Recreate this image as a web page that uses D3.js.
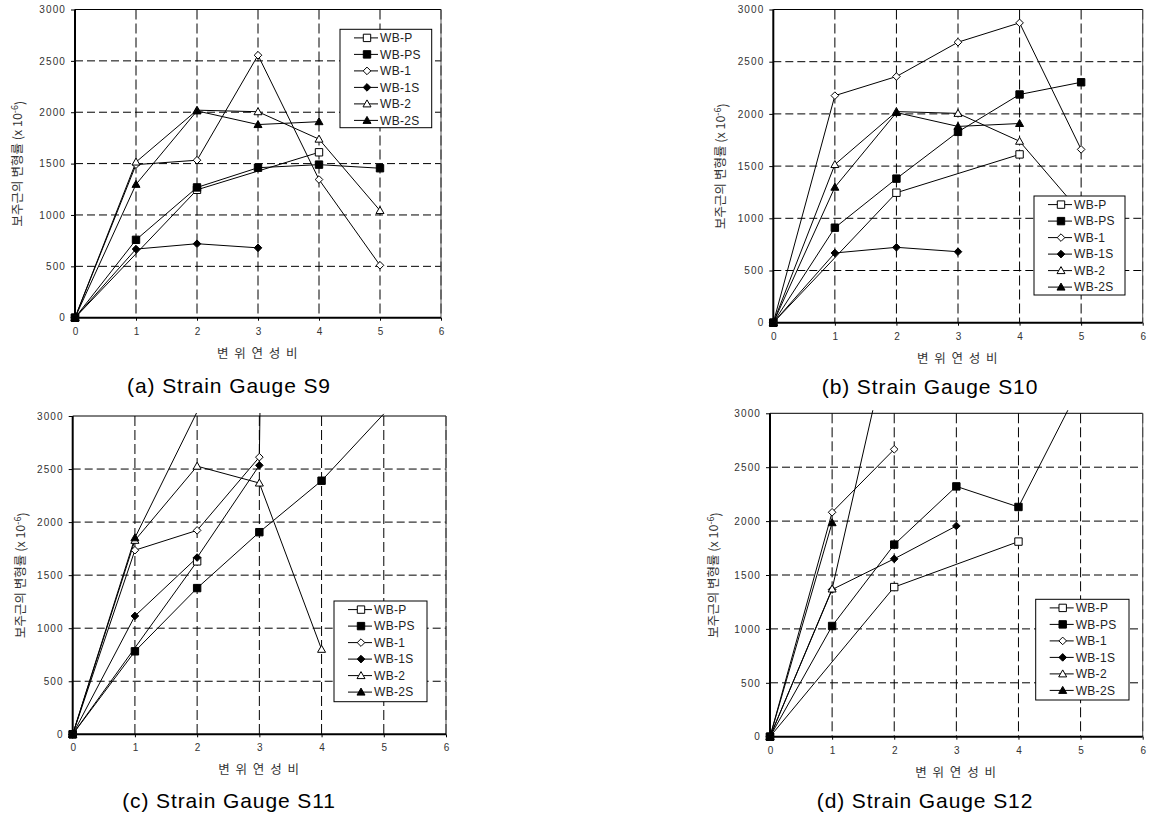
<!DOCTYPE html>
<html>
<head>
<meta charset="utf-8">
<script src="https://cdn.jsdelivr.net/npm/d3@7/dist/d3.min.js"></script>
<style>
  body { margin: 0; background: #fff; }
  svg { display: block; }
  .tick-label { font-family: "Liberation Sans", Arial, sans-serif; font-size: 10px; fill: #333; }
  .axis-title { font-family: "Noto Sans CJK KR", sans-serif; font-size: 12.5px; fill: #333; }
  .legend-text { font-family: "Liberation Sans", Arial, sans-serif; font-size: 12px; fill: #222; letter-spacing: 0.3px; }
  .caption { font-family: "Liberation Sans", Arial, sans-serif; font-size: 21px; fill: #000; letter-spacing: 0.9px; }
</style>
</head>
<body>
<svg id="chart" width="1149" height="819"></svg>
<script>
// axis ticks
var xTicks = [0, 1, 2, 3, 4, 5, 6];
var yTicks = [0, 500, 1000, 1500, 2000, 2500, 3000];
var seriesNames = ["WB-P", "WB-PS", "WB-1", "WB-1S", "WB-2", "WB-2S"];
var markerTypes = ["squareOpen", "squareFilled", "diamondOpen", "diamondFilled", "triangleOpen", "triangleFilled"];
var captions = ["(a) Strain Gauge S9", "(b) Strain Gauge S10", "(c) Strain Gauge S11", "(d) Strain Gauge S12"];
var xTitle = "변 위 연 성 비";

// data : [ductility ratio, strain] per series, order = seriesNames
var s9 = [
  [[0, 0], [2, 1245], [4, 1610]],
  [[0, 0], [1, 758], [2, 1268], [3, 1460], [4, 1490], [5, 1455]],
  [[0, 0], [1, 1490], [2, 1533], [3, 2555], [4, 1345], [5, 510]],
  [[0, 0], [1, 668], [2, 720], [3, 680]],
  [[0, 0], [1, 1515], [2, 2020], [3, 2005], [4, 1738], [5, 1043]],
  [[0, 0], [1, 1298], [2, 2013], [3, 1880], [4, 1908]]
];
var s10 = [
  [[0, 0], [2, 1245], [4, 1612]],
  [[0, 0], [1, 910], [2, 1380], [3, 1828], [4, 2186], [5, 2303]],
  [[0, 0], [1, 2175], [2, 2358], [3, 2687], [4, 2872], [5, 1660]],
  [[0, 0], [1, 668], [2, 722], [3, 680]],
  [[0, 0], [1, 1515], [2, 2022], [3, 2005], [4, 1738], [5, 1050]],
  [[0, 0], [1, 1298], [2, 2013], [3, 1880], [4, 1908]]
];
var s11 = [
  [[0, 0], [2, 1630]],
  [[0, 0], [1, 782], [2, 1378], [3, 1905], [4, 2390], [5, 3020]],
  [[0, 0], [1, 1735], [2, 1922], [3, 2612], [4, 45000]],
  [[0, 0], [1, 1115], [2, 1666], [3, 2535]],
  [[0, 0], [1, 1828], [2, 2527], [3, 2368], [4, 801]],
  [[0, 0], [1, 1852], [2, 3040]]
];
var s12 = [
  [[0, 0], [2, 1388], [4, 1810]],
  [[0, 0], [1, 1027], [2, 1782], [3, 2322], [4, 2131], [5, 3260]],
  [[0, 0], [1, 2082], [2, 2666]],
  [[0, 0], [1, 1365], [2, 1650], [3, 1955]],
  [[0, 0], [1, 1370], [2, 3900]],
  [[0, 0], [1, 1985]]
];

var panels = [
  { data: s9,  caption: captions[0], left: 75,    right: 441,    top: 9.5,   bottom: 317.7, legend: { x: 340,    y: 29.3,  w: 91.7, h: 98.4 },  yTitleX: 18,  capX: 229, capY: 385 },
  { data: s10, caption: captions[1], left: 773.3, right: 1142.7, top: 9.5,   bottom: 322.7, legend: { x: 1034,   y: 196,   w: 91,   h: 99 },    yTitleX: 721, capX: 930, capY: 386 },
  { data: s11, caption: captions[2], left: 72.7,  right: 446,    top: 416,   bottom: 734.3, legend: { x: 334,    y: 601,   w: 93,   h: 100.7 }, yTitleX: 21,  capX: 229, capY: 800 },
  { data: s12, caption: captions[3], left: 770,   right: 1142.7, top: 413.3, bottom: 736.7, legend: { x: 1035.7, y: 599.3, w: 93.3, h: 100.7 }, yTitleX: 714, capX: 925, capY: 800 }
];

var svg = d3.select("#chart");

function markerPath(type) {
  var h;
  if (type.indexOf("square") === 0) {
    h = 3.7;
    return "M" + -h + "," + -h + "H" + h + "V" + h + "H" + -h + "Z";
  }
  if (type.indexOf("diamond") === 0) {
    h = 3.8;
    return "M0," + -h + "L" + h + ",0L0," + h + "L" + -h + ",0Z";
  }
  h = 4;
  return "M0," + (-h) + "L" + h + "," + (h * 0.75) + "L" + (-h) + "," + (h * 0.75) + "Z";
}

function drawMarker(g, type, x, y) {
  g.append("path")
    .attr("d", markerPath(type))
    .attr("transform", "translate(" + x + "," + y + ")")
    .attr("fill", type.indexOf("Filled") > 0 ? "#000" : "#fff")
    .attr("stroke", "#000")
    .attr("stroke-width", 1);
}

panels.forEach(function(p, pi) {
  var x = d3.scaleLinear().domain([0, 6]).range([p.left, p.right]);
  var y = d3.scaleLinear().domain([0, 3000]).range([p.bottom, p.top]);
  var g = svg.append("g");

  // clip for lines (a little slack above the frame, like the original)
  var clipId = "clip" + pi;
  svg.append("clipPath").attr("id", clipId)
    .append("rect")
    .attr("x", p.left).attr("y", p.top - 3)
    .attr("width", p.right - p.left).attr("height", p.bottom - p.top + 3);

  // gridlines
  g.selectAll(".hgrid").data(yTicks.filter(function(d) { return d > 0 && d < 3000; }))
    .enter().append("line")
    .attr("x1", p.left).attr("x2", p.right)
    .attr("y1", function(d) { return y(d); }).attr("y2", function(d) { return y(d); })
    .attr("stroke", "#000").attr("stroke-width", 1).attr("stroke-dasharray", "8,4");
  g.selectAll(".vgrid").data(xTicks.filter(function(d) { return d > 0; }))
    .enter().append("line")
    .attr("y1", p.top).attr("y2", p.bottom)
    .attr("x1", function(d) { return x(d); }).attr("x2", function(d) { return x(d); })
    .attr("stroke", "#000").attr("stroke-width", 1).attr("stroke-dasharray", "10,4");

  // frame top / right
  g.append("line").attr("x1", p.left).attr("x2", p.right).attr("y1", p.top).attr("y2", p.top)
    .attr("stroke", "#000").attr("stroke-width", 1);
  g.append("line").attr("x1", p.right).attr("x2", p.right).attr("y1", p.top).attr("y2", p.bottom)
    .attr("stroke", "#555").attr("stroke-width", 1);

  // axes
  var yAxis = d3.axisLeft(y).tickValues(yTicks).tickSize(4).tickPadding(5).tickFormat(d3.format("d"));
  var xAxis = d3.axisBottom(x).tickValues(xTicks).tickSize(3).tickPadding(7).tickFormat(d3.format("d"));
  var ya = g.append("g").attr("transform", "translate(" + p.left + ",0)").call(yAxis);
  var xa = g.append("g").attr("transform", "translate(0," + p.bottom + ")").call(xAxis);
  [ya, xa].forEach(function(a) {
    a.select(".domain").attr("stroke", "#000").attr("stroke-width", 2);
    a.selectAll(".tick line").attr("stroke", "#000");
    a.selectAll(".tick text").attr("class", "tick-label").attr("font-family", null).attr("font-size", null);
  });
  ya.selectAll(".tick text").style("letter-spacing", "1.1px");
  ya.select(".domain").attr("d", "M0," + p.bottom + "V" + p.top);
  xa.select(".domain").attr("d", "M" + p.left + ",0H" + p.right);

  // series lines
  var line = d3.line().x(function(d) { return x(d[0]); }).y(function(d) { return y(d[1]); });
  var lg = g.append("g").attr("clip-path", "url(#" + clipId + ")");
  p.data.forEach(function(s) {
    lg.append("path").attr("d", line(s)).attr("fill", "none")
      .attr("stroke", "#000").attr("stroke-width", 1);
  });
  // markers
  p.data.forEach(function(s, si) {
    s.forEach(function(d) {
      if (d[1] <= 3000) drawMarker(g, markerTypes[si], x(d[0]), y(d[1]));
    });
  });

  // axis titles
  var yt = g.append("text").attr("class", "axis-title")
    .attr("transform", "translate(" + p.yTitleX + "," + ((p.top + p.bottom) / 2) + ") rotate(-90)")
    .attr("text-anchor", "middle").attr("dy", "0.35em");
  yt.append("tspan").text("보주근의 변형률 (x 10");
  yt.append("tspan").attr("dy", "-0.45em").attr("font-size", "9px").text("-6");
  yt.append("tspan").attr("dy", "0.45em").text(")");

  g.append("text").attr("class", "axis-title")
    .attr("x", (p.left + p.right) / 2).attr("y", p.bottom + 40)
    .attr("text-anchor", "middle").style("letter-spacing", "1.5px")
    .text(xTitle);

  // legend
  var L = p.legend;
  var leg = g.append("g");
  leg.append("rect").attr("x", L.x).attr("y", L.y).attr("width", L.w).attr("height", L.h)
    .attr("fill", "#fff").attr("stroke", "#000").attr("stroke-width", 1);
  seriesNames.forEach(function(name, i) {
    var cy = L.y + 8.6 + i * 16.5;
    leg.append("line").attr("x1", L.x + 14).attr("x2", L.x + 38).attr("y1", cy).attr("y2", cy)
      .attr("stroke", "#000").attr("stroke-width", 1);
    drawMarker(leg, markerTypes[i], L.x + 27, cy);
    leg.append("text").attr("class", "legend-text")
      .attr("x", L.x + 40).attr("y", cy).attr("dy", "0.36em").text(name);
  });

  // caption
  g.append("text").attr("class", "caption")
    .attr("x", p.capX).attr("y", p.capY).attr("dy", "0.36em")
    .attr("text-anchor", "middle").text(p.caption);
});
</script>
</body>
</html>
